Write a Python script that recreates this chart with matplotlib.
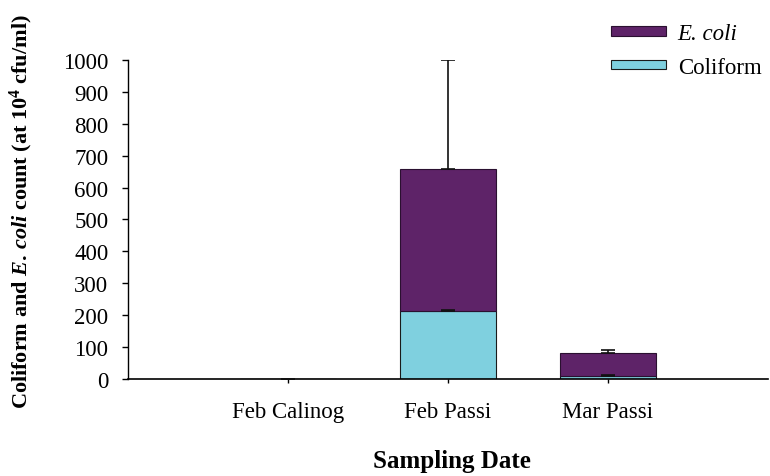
import matplotlib as mpl
import matplotlib.pyplot as plt
import numpy as np

# sampling results (x 10^4 cfu/ml)
dates = ["Feb Calinog", "Feb Passi", "Mar Passi"]
coliform = [0, 214, 10]
coliform_err = [1, 3, 2]
ecoli = [0, 444, 71]
ecoli_err = [1, 342, 10]

ecoli_color = "#5e2368"
coliform_color = "#7fd0df"

mpl.rcParams['font.family'] = 'Liberation Serif'
mpl.rcParams['mathtext.fontset'] = 'custom'
mpl.rcParams['mathtext.rm'] = 'Liberation Serif:bold'
mpl.rcParams['mathtext.it'] = 'Liberation Serif:italic:bold'
mpl.rcParams['mathtext.bf'] = 'Liberation Serif:bold'

fig = plt.figure(figsize=(7.7, 4.77), dpi=100)
ax1 = fig.add_axes([0.166, 0.2034, 0.831, 0.6688])

x = np.arange(1, len(dates) + 1)
width = 0.6
total = np.array(coliform) + np.array(ecoli)

b1 = ax1.bar(x, coliform, width, color=coliform_color, edgecolor='#1a1a1a',
             linewidth=0.8, label='Coliform', zorder=2)
b2 = ax1.bar(x, ecoli, width, bottom=coliform, color=ecoli_color,
             edgecolor='#2a1030', linewidth=0.8, label='E. coli', zorder=2)

# plus-only error bars
ax1.errorbar(x, coliform, yerr=[np.zeros(len(x)), coliform_err], fmt='none',
             ecolor='#111111', elinewidth=1.2, capsize=5, capthick=1.2, zorder=3)
ax1.errorbar(x, total, yerr=[np.zeros(len(x)), ecoli_err], fmt='none',
             ecolor='#111111', elinewidth=1.2, capsize=5, capthick=1.2, zorder=3)

ax1.set_xlim(0, 4)
ax1.set_ylim(0, 1000)
ax1.set_xticks(x)
ax1.set_xticklabels(dates)
ax1.yaxis.set_major_locator(plt.MultipleLocator(100))

for s in ['top', 'right']:
    ax1.spines[s].set_visible(False)
ax1.spines['left'].set_linewidth(1.0)
ax1.spines['bottom'].set_linewidth(1.2)

ax1.tick_params(axis='y', direction='out', length=4, width=1, pad=10, labelsize=16.5)
ax1.tick_params(axis='x', direction='out', length=3, width=1, pad=13, labelsize=16.5)

ax1.set_ylabel(r"Coliform and $E.\,coli$ count (at 10$^{4}$ cfu/ml)",
               fontsize=16, fontweight='bold')
ax1.yaxis.set_label_coords(-0.145, 0.527)
fig.text(0.587, 0.032, "Sampling Date", fontsize=18, fontweight='bold',
         ha='center', va='center')

leg = fig.legend([b2, b1], ['E. coli', 'Coliform'], loc='upper left',
                 bbox_to_anchor=(0.782, 0.968), frameon=False, fontsize=16.5,
                 handlelength=2.4, handleheight=0.25, labelspacing=0.55,
                 handletextpad=0.5, borderaxespad=0)
leg.get_texts()[0].set_fontstyle('italic')

plt.savefig('out.png', dpi=100)
